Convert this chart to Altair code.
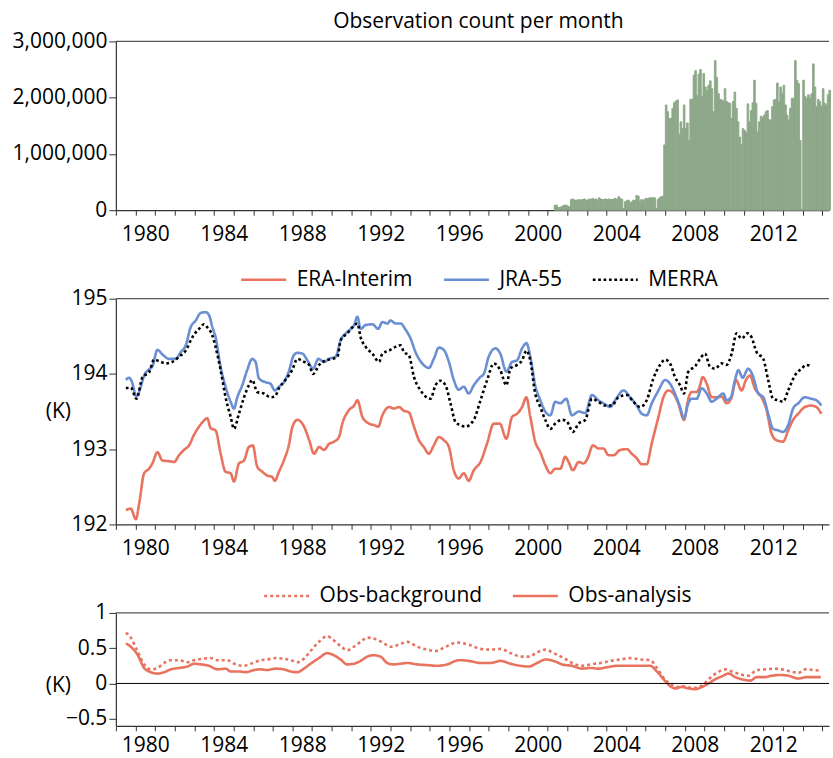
import altair as alt
import pandas as pd

FONT = "Open Sans"
FS = 21
RED = "#E8735F"
BLUE = "#6B8FD3"
GREEN = "#8DA889"
AXIS = "#333333"

# Monthly observation counts (millions), first bar is May 2001
count_start = 2001 + 4 / 12
count_millions = [
    0.09, 0.09, 0.05, 0.05, 0.06, 0.08, 0.09, 0.09, 0.07, 0.06,
    0.19, 0.20, 0.18, 0.18, 0.18, 0.19, 0.18, 0.19, 0.20, 0.18,
    0.18, 0.20, 0.19, 0.21, 0.19, 0.20, 0.18, 0.22, 0.20, 0.19,
    0.19, 0.20, 0.19, 0.20, 0.19, 0.19, 0.20, 0.21, 0.19, 0.24,
    0.21, 0.19, 0.03, 0.15, 0.17, 0.18, 0.13, 0.15, 0.18, 0.17,
    0.26, 0.25, 0.16, 0.19, 0.17, 0.20, 0.21, 0.21, 0.22, 0.22,
    0.22, 0.22, 0.03, 0.19, 0.22, 0.24, 0.25, 1.16, 1.87, 1.75,
    1.63, 1.63, 1.81, 1.91, 1.94, 1.96, 1.35, 1.57, 1.45, 1.87,
    1.45, 1.55, 1.24, 1.97, 1.97, 2.40, 2.48, 2.04, 2.42, 2.50,
    2.02, 2.43, 2.19, 2.13, 2.22, 2.30, 2.16, 1.75, 2.66, 2.36,
    2.07, 1.97, 1.96, 1.94, 2.16, 1.93, 1.91, 1.90, 1.63, 1.93,
    2.10, 1.81, 1.57, 1.30, 1.17, 1.45, 1.42, 1.38, 1.89, 1.57,
    1.77, 1.91, 2.31, 1.90, 1.39, 1.57, 1.67, 1.65, 1.69, 1.75,
    1.77, 1.61, 1.60, 1.84, 1.96, 1.97, 2.26, 1.93, 2.19, 2.07,
    2.22, 1.87, 1.69, 1.60, 1.81, 1.99, 1.99, 2.66, 2.31, 2.25,
    1.24, 0.02, 2.31, 2.02, 1.99, 2.05, 1.99, 2.07, 2.60, 2.19,
    1.84, 1.97, 1.93, 1.85, 2.16, 1.90, 1.87, 2.05, 2.13,
]

# Cold-point temperature (K)
era_years = [
    1979.51, 1979.76, 1980.02, 1980.19, 1980.44, 1980.69, 1980.86, 1981.12, 1981.37, 1981.71,
    1981.97, 1982.22, 1982.47, 1982.73, 1982.98, 1983.24, 1983.49, 1983.66, 1983.83, 1984.08,
    1984.34, 1984.59, 1984.85, 1985.02, 1985.27, 1985.53, 1985.78, 1985.98, 1986.20, 1986.46,
    1986.71, 1986.97, 1987.10, 1987.31, 1987.56, 1987.81, 1988.00, 1988.25, 1988.59, 1988.85,
    1989.10, 1989.36, 1989.61, 1989.86, 1990.12, 1990.37, 1990.54, 1990.88, 1991.14, 1991.31,
    1991.56, 1991.90, 1992.15, 1992.37, 1992.58, 1992.92, 1993.17, 1993.42, 1993.68, 1993.93,
    1994.19, 1994.44, 1994.69, 1994.95, 1995.20, 1995.46, 1995.71, 1995.97, 1996.22, 1996.47,
    1996.73, 1996.98, 1997.24, 1997.58, 1997.92, 1998.26, 1998.56, 1998.90, 1999.19, 1999.44,
    1999.70, 1999.92, 2000.12, 2000.37, 2000.63, 2000.88, 2001.14, 2001.39, 2001.65, 2001.90,
    2002.07, 2002.29, 2002.58, 2002.83, 2003.04, 2003.31, 2003.59, 2003.85, 2004.10, 2004.36,
    2004.70, 2005.04, 2005.29, 2005.54, 2005.80, 2006.05, 2006.31, 2006.65, 2006.90, 2007.16,
    2007.41, 2007.66, 2007.95, 2008.17, 2008.34, 2008.60, 2008.77, 2008.90, 2009.11, 2009.36,
    2009.61, 2009.87, 2010.12, 2010.38, 2010.60, 2010.88, 2011.11, 2011.31, 2011.56, 2011.90,
    2012.16, 2012.41, 2012.66, 2013.00, 2013.26, 2013.51, 2013.77, 2014.11, 2014.44, 2014.70,
    2014.95,
]
era_vals = [
    192.19, 192.21, 192.07, 192.28, 192.68, 192.74, 192.81, 192.96, 192.85, 192.84,
    192.83, 192.92, 192.99, 193.05, 193.19, 193.30, 193.38, 193.41, 193.28, 193.25,
    192.94, 192.70, 192.68, 192.57, 192.81, 192.85, 193.03, 193.05, 192.77, 192.70,
    192.65, 192.63, 192.58, 192.70, 192.85, 193.05, 193.30, 193.39, 193.30, 193.12,
    192.94, 193.03, 192.99, 193.07, 193.10, 193.16, 193.34, 193.52, 193.58, 193.65,
    193.43, 193.34, 193.32, 193.30, 193.45, 193.56, 193.54, 193.56, 193.51, 193.49,
    193.30, 193.12, 193.03, 192.94, 193.05, 193.16, 193.12, 193.03, 192.72, 192.61,
    192.68, 192.58, 192.72, 192.83, 193.08, 193.34, 193.34, 193.14, 193.43, 193.47,
    193.56, 193.69, 193.43, 193.10, 192.96, 192.79, 192.68, 192.74, 192.74, 192.90,
    192.83, 192.72, 192.83, 192.81, 192.88, 193.05, 193.01, 193.01, 192.92, 192.92,
    192.99, 193.00, 192.94, 192.88, 192.80, 192.80, 193.08, 193.43, 193.69, 193.78,
    193.74, 193.61, 193.39, 193.67, 193.76, 193.76, 193.85, 193.96, 193.87, 193.69,
    193.69, 193.70, 193.61, 193.69, 193.92, 193.78, 193.92, 193.98, 193.81, 193.69,
    193.52, 193.21, 193.12, 193.10, 193.25, 193.39, 193.47, 193.56, 193.58, 193.56,
    193.47,
]

jra_years = [
    1979.51, 1979.68, 1979.81, 1980.05, 1980.27, 1980.44, 1980.69, 1980.86, 1981.12, 1981.37,
    1981.71, 1982.05, 1982.31, 1982.56, 1982.81, 1983.07, 1983.32, 1983.58, 1983.75, 1983.92,
    1984.08, 1984.34, 1984.59, 1984.85, 1985.02, 1985.19, 1985.44, 1985.69, 1985.95, 1986.12,
    1986.29, 1986.63, 1986.88, 1987.10, 1987.31, 1987.56, 1987.81, 1988.07, 1988.25, 1988.51,
    1988.76, 1989.05, 1989.32, 1989.61, 1989.86, 1990.20, 1990.46, 1990.80, 1991.14, 1991.31,
    1991.47, 1991.73, 1992.07, 1992.37, 1992.58, 1992.83, 1993.00, 1993.25, 1993.51, 1993.76,
    1994.02, 1994.27, 1994.61, 1994.95, 1995.20, 1995.46, 1995.71, 1995.97, 1996.22, 1996.47,
    1996.73, 1996.98, 1997.24, 1997.58, 1997.75, 1998.00, 1998.34, 1998.59, 1998.90, 1999.19,
    1999.44, 1999.70, 1999.92, 2000.12, 2000.37, 2000.63, 2000.88, 2001.14, 2001.39, 2001.65,
    2001.95, 2002.24, 2002.58, 2002.92, 2003.26, 2003.59, 2003.85, 2004.19, 2004.44, 2004.87,
    2005.21, 2005.54, 2005.80, 2006.05, 2006.31, 2006.65, 2006.99, 2007.24, 2007.49, 2007.75,
    2007.95, 2008.17, 2008.34, 2008.60, 2008.85, 2009.11, 2009.36, 2009.61, 2009.95, 2010.12,
    2010.34, 2010.55, 2010.72, 2010.94, 2011.22, 2011.48, 2011.73, 2011.99, 2012.24, 2012.49,
    2012.75, 2013.00, 2013.26, 2013.51, 2013.77, 2014.11, 2014.44, 2014.70, 2014.95,
]
jra_vals = [
    193.92, 193.95, 193.90, 193.70, 193.83, 193.98, 194.06, 194.10, 194.32, 194.26,
    194.20, 194.20, 194.29, 194.38, 194.62, 194.71, 194.81, 194.82, 194.78, 194.62,
    194.49, 194.09, 193.83, 193.63, 193.54, 193.69, 193.85, 194.05, 194.20, 194.16,
    193.94, 193.89, 193.87, 193.78, 193.83, 193.89, 194.03, 194.25, 194.28, 194.27,
    194.18, 194.07, 194.20, 194.16, 194.20, 194.23, 194.45, 194.56, 194.65, 194.76,
    194.60, 194.65, 194.66, 194.60, 194.69, 194.67, 194.71, 194.67, 194.67, 194.59,
    194.47, 194.29, 194.14, 194.08, 194.20, 194.35, 194.32, 194.16, 193.92, 193.79,
    193.83, 193.74, 193.85, 193.96, 194.00, 194.23, 194.34, 194.27, 194.03, 194.16,
    194.18, 194.34, 194.41, 194.23, 193.85, 193.65, 193.50, 193.45, 193.63, 193.61,
    193.67, 193.45, 193.50, 193.48, 193.72, 193.65, 193.61, 193.56, 193.65, 193.78,
    193.69, 193.58, 193.47, 193.45, 193.61, 193.78, 193.92, 193.87, 193.74, 193.56,
    193.41, 193.61, 193.67, 193.67, 193.81, 193.74, 193.63, 193.67, 193.74, 193.65,
    193.69, 193.92, 194.05, 193.95, 194.07, 193.96, 193.74, 193.69, 193.47, 193.27,
    193.25, 193.23, 193.32, 193.54, 193.61, 193.69, 193.67, 193.65, 193.58,
]

merra_years = [
    1979.51, 1979.76, 1980.05, 1980.36, 1980.69, 1980.95, 1981.29, 1981.54, 1981.88, 1982.22,
    1982.56, 1982.90, 1983.24, 1983.49, 1983.66, 1983.92, 1984.08, 1984.34, 1984.59, 1984.85,
    1985.02, 1985.27, 1985.53, 1985.78, 1985.95, 1986.20, 1986.54, 1986.88, 1987.10, 1987.31,
    1987.64, 1987.98, 1988.25, 1988.59, 1988.85, 1989.05, 1989.36, 1989.69, 1990.03, 1990.29,
    1990.46, 1990.80, 1991.05, 1991.31, 1991.47, 1991.73, 1992.07, 1992.41, 1992.58, 1992.92,
    1993.25, 1993.51, 1993.68, 1993.93, 1994.19, 1994.53, 1994.78, 1995.03, 1995.29, 1995.54,
    1995.80, 1996.05, 1996.31, 1996.56, 1996.81, 1997.24, 1997.58, 1997.92, 1998.26, 1998.59,
    1998.90, 1999.10, 1999.44, 1999.70, 1999.92, 2000.12, 2000.37, 2000.63, 2000.88, 2001.14,
    2001.39, 2001.73, 2001.98, 2002.29, 2002.58, 2002.92, 2003.26, 2003.59, 2003.93, 2004.27,
    2004.61, 2005.04, 2005.37, 2005.71, 2006.05, 2006.39, 2006.73, 2006.99, 2007.24, 2007.49,
    2007.75, 2007.95, 2008.17, 2008.51, 2008.77, 2009.02, 2009.27, 2009.53, 2009.87, 2010.12,
    2010.38, 2010.63, 2010.88, 2011.19, 2011.39, 2011.65, 2011.99, 2012.24, 2012.49, 2012.75,
    2013.00, 2013.26, 2013.60, 2013.94, 2014.19, 2014.36,
]
merra_vals = [
    193.81, 193.82, 193.67, 193.96, 194.02, 194.19, 194.16, 194.14, 194.16, 194.23,
    194.31, 194.49, 194.60, 194.66, 194.62, 194.51, 194.36, 194.05, 193.69, 193.43,
    193.27, 193.47, 193.69, 193.85, 193.92, 193.76, 193.74, 193.69, 193.70, 193.81,
    193.92, 194.05, 194.20, 194.16, 194.12, 194.00, 194.12, 194.18, 194.20, 194.23,
    194.45, 194.54, 194.62, 194.67, 194.49, 194.36, 194.27, 194.16, 194.27, 194.31,
    194.36, 194.38, 194.29, 194.25, 193.96, 193.78, 193.70, 193.67, 193.85, 193.91,
    193.85, 193.61, 193.36, 193.32, 193.30, 193.39, 193.65, 193.92, 194.14, 194.05,
    193.85, 194.07, 194.12, 194.18, 194.31, 194.18, 193.74, 193.56, 193.39, 193.27,
    193.34, 193.39, 193.37, 193.23, 193.34, 193.39, 193.67, 193.63, 193.58, 193.58,
    193.69, 193.72, 193.63, 193.56, 193.65, 193.94, 194.12, 194.19, 194.14, 193.96,
    193.85, 193.74, 194.03, 194.10, 194.20, 194.27, 194.10, 194.07, 194.14, 194.12,
    194.27, 194.54, 194.47, 194.54, 194.49, 194.29, 194.20, 193.92, 193.67, 193.65,
    193.63, 193.78, 193.98, 194.07, 194.12, 194.11,
]

# ERA-Interim departures (K)
omb_years = [
    1979.51, 1979.76, 1980.10, 1980.44, 1980.78, 1981.12, 1981.46, 1981.80, 1982.22, 1982.65,
    1982.99, 1983.41, 1983.84, 1984.17, 1984.68, 1985.02, 1985.53, 1985.87, 1986.38, 1986.72,
    1987.14, 1987.57, 1987.91, 1988.25, 1988.58, 1988.92, 1989.35, 1989.77, 1990.11, 1990.45,
    1990.79, 1991.13, 1991.47, 1991.81, 1992.23, 1992.66, 1993.00, 1993.42, 1993.85, 1994.36,
    1994.87, 1995.29, 1995.80, 1996.39, 1996.99, 1997.58, 1998.09, 1998.60, 1999.11, 1999.70,
    2000.04, 2000.46, 2000.89, 2001.31, 2001.82, 2002.25, 2002.75, 2003.18, 2003.69, 2004.20,
    2004.71, 2005.21, 2005.72, 2006.23, 2006.57, 2006.91, 2007.25, 2007.59, 2007.93, 2008.27,
    2008.61, 2008.95, 2009.29, 2009.62, 2010.05, 2010.39, 2010.81, 2011.24, 2011.66, 2012.08,
    2012.51, 2012.93, 2013.36, 2013.78, 2014.12, 2014.54, 2014.92,
]
omb_vals = [
    0.72, 0.65, 0.46, 0.27, 0.20, 0.22, 0.29, 0.33, 0.33, 0.30,
    0.33, 0.35, 0.36, 0.33, 0.33, 0.28, 0.25, 0.28, 0.33, 0.34,
    0.36, 0.35, 0.33, 0.30, 0.35, 0.46, 0.59, 0.67, 0.61, 0.53,
    0.47, 0.52, 0.59, 0.65, 0.63, 0.57, 0.52, 0.55, 0.59, 0.52,
    0.48, 0.46, 0.52, 0.58, 0.55, 0.49, 0.48, 0.49, 0.43, 0.38,
    0.38, 0.44, 0.48, 0.43, 0.36, 0.29, 0.25, 0.27, 0.29, 0.32,
    0.34, 0.36, 0.34, 0.33, 0.22, 0.08, -0.01, -0.05, -0.04, -0.06,
    -0.06, -0.01, 0.08, 0.15, 0.20, 0.17, 0.13, 0.11, 0.19, 0.20,
    0.21, 0.20, 0.17, 0.15, 0.20, 0.19, 0.18,
]

oma_years = [
    1979.51, 1979.76, 1980.10, 1980.44, 1980.78, 1981.12, 1981.46, 1981.80, 1982.22, 1982.65,
    1982.99, 1983.33, 1983.75, 1984.17, 1984.60, 1984.85, 1985.28, 1985.62, 1986.04, 1986.38,
    1986.72, 1987.14, 1987.57, 1987.91, 1988.25, 1988.58, 1988.92, 1989.35, 1989.77, 1990.11,
    1990.45, 1990.79, 1991.13, 1991.47, 1991.81, 1992.15, 1992.49, 1992.83, 1993.16, 1993.50,
    1993.85, 1994.36, 1994.87, 1995.38, 1995.88, 1996.48, 1996.99, 1997.58, 1998.09, 1998.60,
    1999.11, 1999.62, 2000.04, 2000.46, 2000.89, 2001.31, 2001.74, 2002.25, 2002.75, 2003.18,
    2003.60, 2004.03, 2004.54, 2005.21, 2005.89, 2006.23, 2006.57, 2006.91, 2007.25, 2007.50,
    2007.84, 2008.18, 2008.52, 2008.86, 2009.20, 2009.54, 2009.88, 2010.22, 2010.56, 2010.90,
    2011.32, 2011.66, 2012.08, 2012.42, 2012.85, 2013.27, 2013.78, 2014.20, 2014.63, 2014.92,
]
oma_vals = [
    0.57, 0.52, 0.41, 0.22, 0.16, 0.14, 0.16, 0.20, 0.22, 0.24,
    0.28, 0.27, 0.25, 0.20, 0.21, 0.17, 0.17, 0.16, 0.19, 0.20,
    0.19, 0.21, 0.20, 0.17, 0.16, 0.21, 0.28, 0.36, 0.43, 0.40,
    0.34, 0.27, 0.28, 0.32, 0.38, 0.40, 0.38, 0.29, 0.27, 0.28,
    0.29, 0.27, 0.26, 0.25, 0.27, 0.33, 0.32, 0.29, 0.29, 0.32,
    0.28, 0.25, 0.24, 0.29, 0.34, 0.32, 0.27, 0.25, 0.21, 0.22,
    0.21, 0.23, 0.25, 0.25, 0.25, 0.25, 0.17, 0.06, -0.04, -0.07,
    -0.05, -0.07, -0.08, -0.05, 0.00, 0.06, 0.10, 0.14, 0.09, 0.06,
    0.04, 0.09, 0.09, 0.11, 0.12, 0.11, 0.07, 0.09, 0.09, 0.09,
]

YEAR_TICKS = list(range(1979, 2016))
X_DOMAIN = [1979, 2015.34]
PLOT_W = 714


def year_axis(pad=8):
    return alt.Axis(
        values=YEAR_TICKS,
        labelExpr="datum.value % 4 == 0 && datum.value <= 2012 ? format(datum.value, 'd') : ''",
        labelOffset=9.8,
        labelOverlap=False,
        labelFlush=False,
        tickSize=5,
        labelPadding=pad,
        title=None,
        grid=False,
    )


def x_enc(field, pad=8):
    return alt.X(f"{field}:Q", scale=alt.Scale(domain=X_DOMAIN, nice=False, zero=False),
                 axis=year_axis(pad))


def value_axis(values, fmt, title=None, title_y=0):
    opts = dict(values=values, format=fmt, grid=False, labelOverlap=False)
    if title:
        opts.update(title=title, titleAngle=0, titleX=-58, titleY=title_y,
                    titleAlign="center", titleBaseline="middle")
    else:
        opts.update(title=None)
    return alt.Axis(**opts)


def frame_top(value, axis):
    return alt.Chart(pd.DataFrame({"v": [value]})).mark_rule(
        color="#555555", strokeWidth=1.2
    ).encode(y=alt.Y("v:Q", axis=axis))


# ---- observation counts ----
bars = pd.DataFrame({
    "start": [count_start + i / 12 for i in range(len(count_millions))],
    "count": [v * 1e6 for v in count_millions],
})
bars["end"] = bars["start"] + 1 / 12

count_axis = value_axis([0, 1e6, 2e6, 3e6], ",d")
count_bars = alt.Chart(bars).mark_bar(color=GREEN, stroke=GREEN, strokeWidth=0.9).encode(
    x=x_enc("start"),
    x2="end:Q",
    y=alt.Y("count:Q", scale=alt.Scale(domain=[0, 3e6], nice=False), axis=count_axis),
    y2=alt.datum(0),
)
top = alt.layer(count_bars, frame_top(3e6, count_axis)).properties(
    width=PLOT_W, height=169,
    title=alt.TitleParams("Observation count per month", fontSize=FS, font=FONT,
                          fontWeight="normal", color="black", anchor="middle", dx=6, offset=-2),
)

# ---- reanalysis temperatures ----
series = ["ERA-Interim", "JRA-55", "MERRA"]
temps = pd.concat([
    pd.DataFrame({"year": era_years, "value": era_vals, "series": "ERA-Interim", "order": 0}),
    pd.DataFrame({"year": jra_years, "value": jra_vals, "series": "JRA-55", "order": 1}),
    pd.DataFrame({"year": merra_years, "value": merra_vals, "series": "MERRA", "order": 2}),
])


def line_legend(x, y):
    return alt.Legend(
        orient="none", legendX=x, legendY=y, direction="horizontal", title=None,
        symbolType="stroke", symbolSize=2025, symbolStrokeWidth=2.6,
        labelFontSize=FS, labelFont=FONT, labelColor="black", labelOffset=9,
        labelLimit=400, columnPadding=25, padding=0,
    )


temp_axis = value_axis([192, 193, 194, 195], "d", "(K)", 113)
mid_legend = line_legend(124, -43)
temp_lines = alt.Chart(temps).mark_line(strokeWidth=2.6, interpolate="monotone").encode(
    x=x_enc("year"),
    y=alt.Y("value:Q", scale=alt.Scale(domain=[192, 195], nice=False, zero=False),
            axis=temp_axis),
    color=alt.Color("series:N", scale=alt.Scale(domain=series, range=[RED, BLUE, "black"]),
                    legend=mid_legend),
    strokeDash=alt.StrokeDash("series:N",
                              scale=alt.Scale(domain=series, range=[[1, 0], [1, 0], [2.7, 2.7]]),
                              legend=mid_legend),
    order="order:Q",
)
middle = alt.layer(temp_lines, frame_top(195, temp_axis)).properties(width=PLOT_W, height=226)

# ---- departures ----
dep_series = ["Obs-background", "Obs-analysis"]
deps = pd.concat([
    pd.DataFrame({"year": omb_years, "value": omb_vals, "series": "Obs-background"}),
    pd.DataFrame({"year": oma_years, "value": oma_vals, "series": "Obs-analysis"}),
])
dep_axis = value_axis([-0.5, 0, 0.5, 1], ".1~f", "(K)", 73)
low_legend = line_legend(147, -41)
dep_lines = alt.Chart(deps).mark_line(strokeWidth=2.6, interpolate="monotone").encode(
    x=x_enc("year", pad=4),
    y=alt.Y("value:Q", scale=alt.Scale(domain=[-0.6, 1], nice=False, zero=False),
            axis=dep_axis),
    color=alt.Color("series:N", scale=alt.Scale(domain=dep_series, range=[RED, RED]),
                    legend=low_legend),
    strokeDash=alt.StrokeDash("series:N",
                              scale=alt.Scale(domain=dep_series, range=[[3, 3], [1, 0]]),
                              legend=low_legend),
)
zero_line = alt.Chart(pd.DataFrame({"v": [0]})).mark_rule(color="black", strokeWidth=1).encode(
    y=alt.Y("v:Q", axis=dep_axis))
bottom = alt.layer(dep_lines, zero_line, frame_top(1, dep_axis)).properties(width=PLOT_W, height=113)

chart = alt.vconcat(top, middle, bottom, spacing=88.6, bounds="flush").resolve_scale(
    color="independent", strokeDash="independent"
).resolve_legend(
    color="independent", strokeDash="independent"
).properties(
    padding={"left": 12, "top": 11, "right": 0, "bottom": 0}
).configure_view(
    stroke=None
).configure_axis(
    labelFont=FONT, labelFontSize=FS, labelColor="black",
    titleFont=FONT, titleFontSize=FS, titleColor="black", titleFontWeight="normal",
    domainColor=AXIS, tickColor=AXIS, domainWidth=1.2, tickWidth=1,
).configure_axisY(
    tickSize=7, labelPadding=2,
)

chart.save("out.html", embed_options={"renderer": "svg", "actions": False})
